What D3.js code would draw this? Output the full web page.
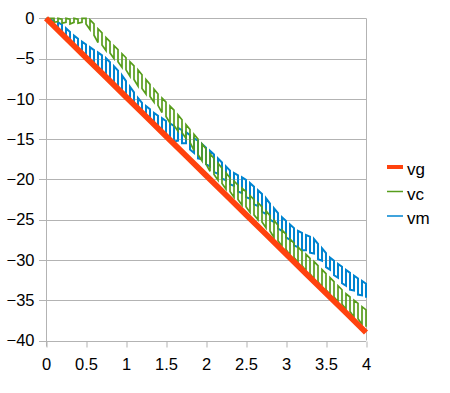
<!DOCTYPE html>
<html><head><meta charset="utf-8">
<script src="https://cdn.jsdelivr.net/npm/d3@7"></script>
<style>body{margin:0;background:#fff}svg{display:block}</style>
</head><body><svg id="c" width="450" height="393"></svg>
<script>
const time = [0,0.05,0.1,0.15,0.2,0.25,0.3,0.35,0.4,0.45,0.5,0.55,0.6,0.65,0.7,0.75,0.8,0.85,0.9,0.95,
1,1.05,1.1,1.15,1.2,1.25,1.3,1.35,1.4,1.45,1.5,1.55,1.6,1.65,1.7,1.75,1.8,1.85,1.9,1.95,
2,2.05,2.1,2.15,2.2,2.25,2.3,2.35,2.4,2.45,2.5,2.55,2.6,2.65,2.7,2.75,2.8,2.85,2.9,2.95,
3,3.05,3.1,3.15,3.2,3.25,3.3,3.35,3.4,3.45,3.5,3.55,3.6,3.65,3.7,3.75,3.8,3.85,3.9,3.95,4];
const vmHigh = [0,-0.15,-0.3,-0.5,-0.8,-1.25,-1.7,-2.15,-2.55,-2.9,-3.25,-3.6,-3.95,-4.25,-4.6,-4.95,-5.45,-5.95,-6.5,-7.1,
-7.8,-8.5,-9.2,-9.9,-10.5,-10.9,-11.3,-11.75,-12.1,-12.4,-12.75,-13.05,-13.35,-13.6,-13.9,-14.15,-14.5,-14.9,-15.2,-15.6,
-16.05,-16.45,-16.9,-17.4,-17.9,-18.4,-18.9,-19.2,-19.5,-19.75,-20.05,-20.45,-20.9,-21.35,-21.8,-22.35,-23.0,-23.6,-24.2,-24.7,
-25.15,-25.6,-26.05,-26.4,-26.65,-26.9,-27.1,-27.4,-28.0,-28.55,-29.15,-29.7,-30.1,-30.5,-30.85,-31.25,-31.6,-31.95,-32.3,-32.6,-32.95];
const vmLow = [0,-0.5,-1.1,-1.2,-1.9,-2.3,-3.0,-3.2,-4.0,-4.2,-5.0,-5.2,-5.9,-6.1,-6.8,-7.0,-7.7,-8.0,-8.7,-9.0,
-9.7,-10.0,-10.7,-11.0,-11.8,-12.1,-12.8,-13.1,-13.8,-14.0,-14.7,-14.8,-15.3,-15.2,-15.5,-15.5,-16.3,-16.7,-17.4,-17.5,
-18.1,-18.4,-19.1,-19.3,-19.9,-20.1,-20.6,-20.8,-21.5,-21.7,-22.2,-22.4,-23.1,-23.3,-24.0,-24.3,-25.0,-25.3,-26.1,-26.4,
-27.2,-27.5,-28.2,-28.4,-28.8,-28.8,-29.1,-29.2,-29.9,-30.1,-30.9,-31.2,-31.9,-32.2,-32.9,-33.2,-33.7,-33.8,-34.3,-34.4,-34.7];
const vcHigh = [0,0,0,0,-0.1,0,-0.1,0,-0.1,0,0,-0.2,-0.7,-1.3,-1.8,-2.4,-2.9,-3.4,-3.9,-4.4,
-4.9,-5.4,-5.9,-6.4,-7.0,-7.6,-8.2,-8.8,-9.4,-9.9,-10.4,-10.9,-11.4,-12.0,-12.6,-13.2,-13.8,-14.4,-15.0,-15.6,
-16.2,-16.8,-17.4,-18.0,-18.6,-19.2,-19.8,-20.2,-20.7,-21.1,-21.5,-22.0,-22.5,-22.9,-23.4,-23.9,-24.5,-25.1,-25.7,-26.3,
-26.8,-27.4,-27.9,-28.4,-28.9,-29.3,-29.8,-30.2,-30.7,-31.2,-31.7,-32.2,-32.7,-33.2,-33.7,-34.2,-34.6,-35.0,-35.4,-35.8,-36.2];
const vcLow = [0,-0.3,-0.5,-0.4,-0.6,-0.5,-0.7,-0.5,-0.6,-0.5,-0.7,-1.4,-2.1,-3.0,-3.3,-4.0,-4.3,-5.0,-5.4,-6.1,
-6.4,-7.2,-7.6,-8.4,-8.7,-9.4,-9.7,-10.4,-10.8,-11.7,-12.2,-13.0,-13.3,-14.0,-14.2,-14.9,-15.4,-16.4,-16.9,-17.7,
-18.1,-19.0,-19.4,-20.1,-20.5,-21.2,-21.5,-22.2,-22.5,-23.2,-23.4,-24.1,-24.4,-25.0,-25.3,-26.0,-26.4,-27.2,-27.6,-28.3,
-28.7,-29.4,-29.7,-30.3,-30.7,-31.4,-31.7,-32.4,-32.7,-33.4,-33.7,-34.3,-34.6,-35.2,-35.5,-36.1,-36.4,-37.1,-37.3,-38.0,-38.3];
const vgTime = [0,0.25,0.5,0.75,1,1.25,1.5,1.75,2,2.25,2.5,2.75,3,3.25,3.5,3.75,4];
const vgValues = [0,-2.44,-4.88,-7.31,-9.75,-12.19,-14.63,-17.06,-19.5,-21.94,-24.38,-26.81,-29.25,-31.69,-34.13,-36.56,-39.0];
const xTicks = [0,0.5,1,1.5,2,2.5,3,3.5,4];
const yTicks = [0,-5,-10,-15,-20,-25,-30,-35,-40];
const seriesNames = ["vg","vc","vm"];
const seriesColors = ["#ff420e","#579d1c","#0084d1"];

const svg = d3.select("#c");
const x = d3.scaleLinear().domain([0,4]).range([46,366]);
const y = d3.scaleLinear().domain([-40,0]).range([340.5,18.3]);
const font = "'Liberation Sans', Arial, sans-serif";
const fs = 16.5;
const grid = "#b3b3b3";
const fmt = d => String(d).replace("-", "\u2212");

svg.append("g").selectAll("line").data(yTicks).join("line")
  .attr("x1",39).attr("x2",366).attr("y1",d=>Math.round(y(d))+0.5).attr("y2",d=>Math.round(y(d))+0.5)
  .attr("stroke",grid).attr("stroke-width",1);
svg.append("line").attr("x1",366.5).attr("x2",366.5).attr("y1",y(0)).attr("y2",y(-40)).attr("stroke",grid);

const xAxis = svg.append("g").attr("transform",`translate(0,${Math.round(y(-40))+0.5})`)
  .call(d3.axisBottom(x).tickValues(xTicks).tickSize(6).tickPadding(11).tickFormat(fmt));
xAxis.select(".domain").remove();
xAxis.selectAll("line").attr("stroke",grid).attr("transform","translate(0.5,0)");
xAxis.selectAll("text").attr("font-family",font).attr("font-size",fs).attr("fill","#000");
const yAxis = svg.append("g").attr("transform","translate(46.5,0)")
  .call(d3.axisLeft(y).tickValues(yTicks).tickSize(0).tickPadding(12).tickFormat(fmt));
yAxis.select(".domain").attr("stroke",grid).attr("d",`M0,${y(0)}V${y(-40)+6}`);
yAxis.selectAll("text").attr("font-family",font).attr("font-size",fs).attr("fill","#000");

function comb(hi, lo){
  const pts=[];
  time.forEach((t,i)=>{
    if(i%2===0){pts.push([t,hi[i]]); pts.push([t,lo[i]]);}
    else {pts.push([t,lo[i]]); pts.push([t,hi[i]]);}
  });
  return pts;
}
const line = d3.line().x(d=>x(d[0])).y(d=>y(d[1]));
svg.append("path").attr("d",line(comb(vmHigh,vmLow))).attr("fill","none")
  .attr("stroke",seriesColors[2]).attr("stroke-width",2);
svg.append("path").attr("d",line(comb(vcHigh,vcLow))).attr("fill","none")
  .attr("stroke",seriesColors[1]).attr("stroke-width",1.7);
svg.append("path").attr("d",line(vgTime.map((t,i)=>[t,vgValues[i]]))).attr("fill","none")
  .attr("stroke",seriesColors[0]).attr("stroke-width",5.8);

const leg = svg.append("g");
seriesNames.forEach((n,i)=>{
  const yy = 167 + i*24.5;
  leg.append("line").attr("x1",387).attr("x2",403).attr("y1",yy).attr("y2",yy)
    .attr("stroke",seriesColors[i]).attr("stroke-width",i===0?4:1.5);
  leg.append("text").attr("x",407).attr("y",yy+8).text(n)
    .attr("font-family",font).attr("font-size",17).attr("fill","#000");
});
</script></body></html>
